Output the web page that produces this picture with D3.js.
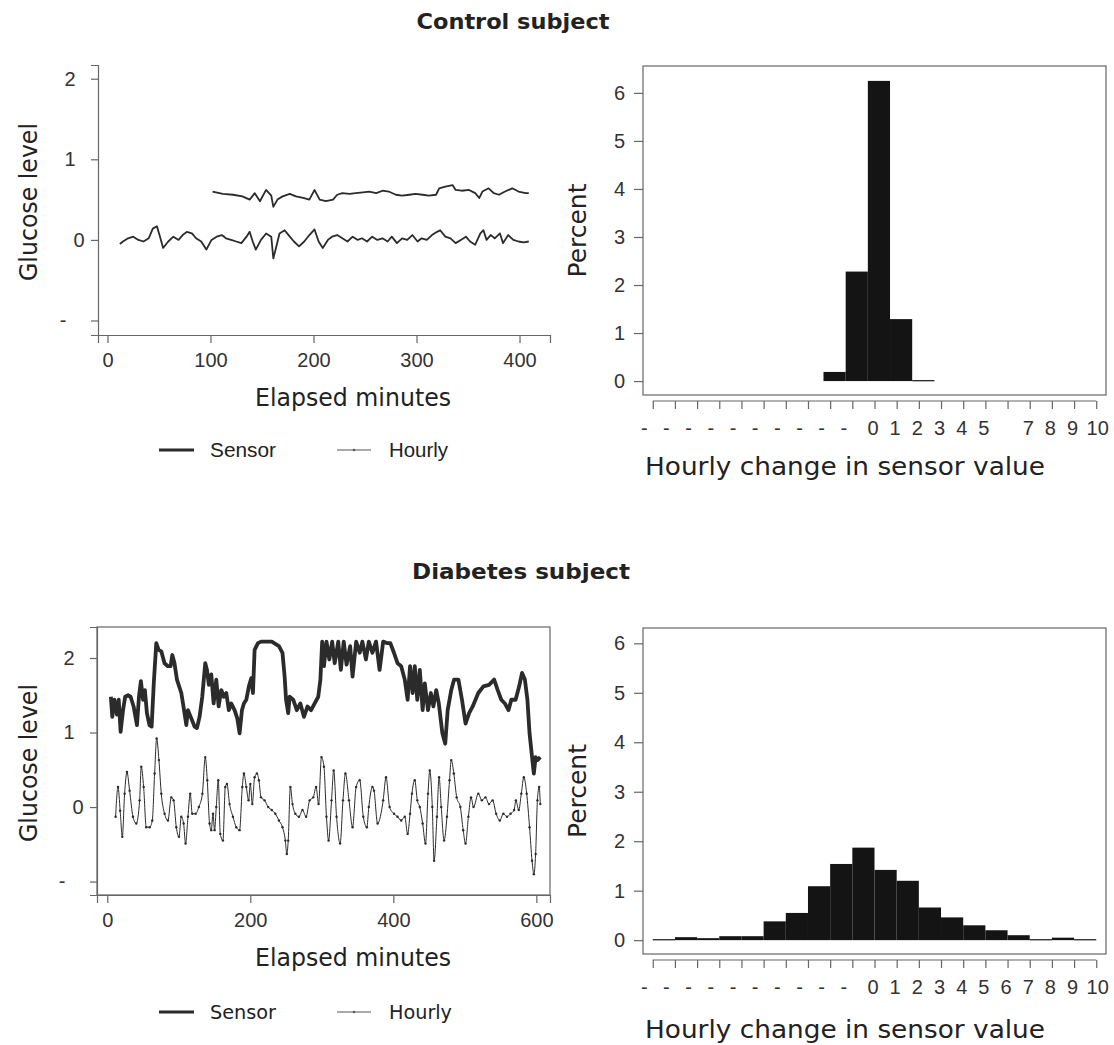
<!DOCTYPE html>
<html>
<head>
<meta charset="utf-8">
<script src="https://cdn.jsdelivr.net/npm/d3@7"></script>
<style>
  html, body { margin: 0; padding: 0; background: #ffffff; }
  svg { display: block; }
</style>
</head>
<body>
<script>
// ---------- Control subject: glucose traces ----------
const ctlSensorMin = [102,112,122,131,138,143,148,154,159,161,165,170,177,183,190,196,201,206,212,219,223,228,235,241,248,254,261,267,273,280,286,293,299,306,312,319,322,328,335,338,344,351,357,361,364,370,375,380,386,393,399,406,409];
const ctlSensor    = [0.60,0.57,0.56,0.54,0.50,0.58,0.48,0.62,0.55,0.41,0.50,0.54,0.57,0.54,0.52,0.50,0.62,0.50,0.48,0.50,0.56,0.58,0.57,0.58,0.59,0.60,0.58,0.61,0.60,0.56,0.55,0.56,0.57,0.56,0.55,0.56,0.64,0.66,0.68,0.62,0.61,0.62,0.58,0.52,0.60,0.64,0.58,0.56,0.60,0.64,0.60,0.58,0.58];

const ctlHourMin = [12,15,20,25,30,35,40,44,48,51,54,59,64,69,73,77,82,86,91,96,101,106,111,115,120,125,130,135,138,141,144,149,154,159,161,164,167,172,177,181,186,191,196,201,205,209,214,218,223,228,233,238,243,247,252,257,262,267,272,276,281,286,291,296,301,305,310,315,320,323,328,333,338,343,348,352,357,362,365,368,372,376,381,384,389,394,399,404,409];
const ctlHourly  = [-0.05,-0.02,0.02,0.04,0.00,-0.02,0.02,0.14,0.17,0.04,-0.10,-0.02,0.04,0.00,0.06,0.10,0.08,0.02,-0.02,-0.12,0.00,0.04,0.06,0.02,0.00,-0.02,-0.04,0.04,0.10,-0.02,-0.12,0.00,0.08,0.04,-0.23,-0.08,0.08,0.12,0.04,-0.02,-0.08,-0.02,0.06,0.13,-0.02,-0.10,0.00,0.04,0.06,0.02,-0.02,0.04,0.00,0.02,-0.02,0.04,0.00,0.02,-0.02,0.04,-0.04,0.02,0.00,0.06,-0.02,0.02,0.00,0.06,0.10,0.12,0.04,0.02,-0.04,0.00,0.04,-0.02,-0.06,0.08,0.12,0.00,0.06,0.02,0.08,-0.04,0.06,0.00,-0.02,-0.03,-0.02];

// ---------- Diabetes subject: glucose traces ----------
const dbSensorMin = [5,7,10,13.5,16,18.6,22,25,29,32.6,36.8,41.5,44.3,47,50,52.6,55.4,59,62,65,68.5,71.8,75.5,80,84.8,88.5,90.9,94,97.4,103.5,108,110.5,112.8,117.5,122,125.4,129,132.8,137,139.4,142,145.4,148.7,152.4,155.7,159.4,163,166.4,170,173.4,178,181.8,185,188.3,191,194.4,198,201.4,203.7,206,210.7,215,220,230,240,245,248,250,253,255,260,265,270,275,280,285,290,295,298,300.5,303,306.5,310.5,314.5,318,323,326.6,330.6,334.6,339.6,343,348,353,356.7,361.7,365.7,370.8,375.8,380.8,385.8,390.8,395.8,400.9,405.9,411,416,420,423.4,427,430,433.5,437,441,444,448.5,452.5,456,460,463.6,468.6,472.6,476,481,485,491,496,501,506,511,518.8,526,533.8,541,546,551,556,561,565,571,576,580,584,587.5,590.5,594,596.5,599,601.5,605.5];
const dbSensor    = [1.48,1.21,1.44,1.24,1.44,1.01,1.30,1.48,1.50,1.48,1.35,1.10,1.48,1.69,1.44,1.57,1.26,1.10,1.08,1.66,2.20,2.11,2.09,1.93,1.89,1.89,2.04,1.93,1.71,1.53,1.26,1.10,1.30,1.19,1.08,1.06,1.21,1.48,1.93,1.84,1.64,1.78,1.39,1.71,1.35,1.57,1.48,1.53,1.30,1.39,1.30,1.19,0.99,1.30,1.39,1.44,1.62,1.73,1.53,2.11,2.20,2.22,2.22,2.22,2.16,2.07,1.75,1.44,1.26,1.48,1.44,1.30,1.39,1.21,1.35,1.30,1.39,1.48,1.71,2.22,1.89,2.22,1.98,2.22,1.93,2.22,1.84,2.22,1.91,2.16,1.75,2.22,2.07,2.22,1.98,2.22,2.07,2.22,1.84,2.22,2.20,2.20,2.07,1.93,1.89,1.71,1.44,1.89,1.53,1.89,1.44,1.84,1.30,1.66,1.30,1.53,1.35,1.57,1.39,0.99,0.85,1.30,1.57,1.71,1.71,1.44,1.12,1.26,1.35,1.53,1.62,1.64,1.71,1.57,1.44,1.39,1.30,1.44,1.44,1.62,1.80,1.71,1.44,0.99,0.67,0.45,0.67,0.63,0.67];

const dbHourMin = [11.6,15,18,21,24.2,27.5,31.2,35.9,40.5,45.2,47.5,50.8,54.5,59.2,62.9,66.2,69,72.2,75.5,80.1,84.8,89.5,92.7,96.5,100.2,103.5,106.7,109.5,112.8,116,118.8,123.5,128,133,137,139.8,143,145.4,147.8,150,152.4,155.2,158,161.7,165,167.3,171,175.7,180.4,185,188.8,191,194.4,197.6,200,202.8,206,209.3,212,215,220,225,230,235,240,245,249,251,253,256,259,263,268,273,278,283,288,292,295.5,299.5,303,306.5,309.5,313.6,316.6,320.6,325.6,329.6,333,338,343,348,353,358,363,365.7,370.8,373,378,385.8,389.8,394.8,400.9,405.9,411,416,420,423.4,426,430,433.5,437,441,445,448.5,451,454.5,457,461,464,467,471,475,478.6,481,484.6,488.6,493.7,497.7,501,505,508.7,512.2,518.8,523.8,528.8,533.8,538.8,543.8,548.9,553.9,558.9,563.9,568.9,571.4,575.4,579,582.5,586.5,590.5,594,596.5,599,601.5,604,605.5];
const dbHourly  = [-0.13,0.27,-0.05,-0.40,0.18,0.47,0.22,-0.13,-0.22,0.09,0.54,0.27,-0.27,-0.27,-0.18,0.45,0.92,0.63,0.18,-0.09,-0.18,0.13,0.09,-0.27,-0.40,-0.13,-0.22,-0.49,-0.13,0.18,-0.09,-0.09,0.00,0.18,0.67,0.36,-0.22,-0.31,-0.09,-0.31,0.00,0.36,-0.36,-0.45,0.27,0.31,0.04,-0.13,-0.27,-0.31,0.27,0.45,0.27,0.09,0.31,0.04,0.40,0.45,0.36,0.13,0.09,0.00,-0.04,-0.09,-0.18,-0.27,-0.45,-0.63,-0.45,0.27,0.04,-0.09,-0.13,-0.04,-0.13,0.09,0.13,0.27,0.04,0.67,0.54,-0.13,-0.45,0.09,0.49,-0.13,-0.49,0.09,0.45,0.09,-0.27,0.27,0.36,-0.13,-0.27,0.00,0.27,0.22,-0.22,0.09,0.40,0.00,-0.09,-0.13,-0.18,-0.13,-0.36,-0.09,0.18,0.36,0.09,0.00,-0.22,-0.49,0.18,0.49,0.00,-0.72,-0.13,0.40,0.00,-0.45,-0.13,0.36,0.63,0.45,0.13,0.00,-0.31,-0.49,-0.13,0.13,0.00,0.18,0.09,0.13,0.04,0.09,-0.09,-0.18,-0.09,-0.13,-0.09,-0.04,0.09,-0.04,0.18,0.40,0.18,-0.27,-0.72,-0.90,-0.63,0.09,0.27,0.04];

// ---------- Histograms of hourly change ----------
const ctlBinLeft = [-2.3,-1.3,-0.3,0.7,1.7];
const ctlPercent = [0.19,2.28,6.25,1.29,0.02];
const dbBinLeft  = [-10,-9,-8,-7,-6,-5,-4,-3,-2,-1,0,1,2,3,4,5,6,7,8,9];
const dbPercent  = [0.02,0.06,0.04,0.08,0.08,0.38,0.55,1.09,1.54,1.87,1.42,1.20,0.66,0.46,0.30,0.20,0.10,0.02,0.05,0.02];

// ---------- Tick values and labels ----------
const glucoseTicks  = [-1,0,1,2];
const glucoseLabels = ["-","0","1","2"];
const ctlMinuteTicks = [0,100,200,300,400];
const dbMinuteTicks  = [0,200,400,600];
const pctTicks = [0,1,2,3,4,5,6];
const changeTicks = d3.range(-10,11);
const ctlChangeLabels = ["-","-","-","-","-","-","-","-","-","-","0","1","2","3","4","5","","7","8","9","10"];
const dbChangeLabels  = ["-","-","-","-","-","-","-","-","-","-","0","1","2","3","4","5","6","7","8","9","10"];

const W = 1114, H = 1045;
const INK = "#2b2b2b", AXIS = "#666";
const TITLE_FONT = "'DejaVu Sans', 'Noto Sans', sans-serif";
const TICK_FONT = "'Liberation Sans', Arial, sans-serif";

const svg = d3.select("body").append("svg").attr("width", W).attr("height", H);

function text(x, y, s, opts = {}) {
  const t = svg.append("text").attr("x", x).attr("y", y).text(s)
    .attr("font-family", opts.family || TITLE_FONT)
    .attr("font-size", opts.size || 23)
    .attr("font-weight", opts.weight || "normal")
    .attr("fill", opts.fill || "#222")
    .attr("text-anchor", opts.anchor || "middle")
    .attr("dominant-baseline", "central");
  if (opts.len) t.attr("textLength", opts.len).attr("lengthAdjust", "spacingAndGlyphs");
  if (opts.rotate) t.attr("transform", `rotate(-90,${x},${y})`);
  return t;
}

function styleAxis(g) {
  g.selectAll("path.domain").attr("stroke", AXIS).attr("stroke-width", 1.2);
  g.selectAll(".tick line").attr("stroke", AXIS).attr("stroke-width", 1.2);
  g.selectAll(".tick text").attr("font-family", TICK_FONT).attr("font-size", 20).attr("fill", "#333");
}

// ----- time-series panel -----
function seriesPanel(cfg) {
  const x = d3.scaleLinear().domain(cfg.xDomain).range([cfg.left, cfg.right]);
  const y = d3.scaleLinear().domain(cfg.yDomain).range([cfg.bottom, cfg.top]);

  if (cfg.box) {
    svg.append("rect").attr("x", cfg.left).attr("y", cfg.top)
      .attr("width", cfg.right - cfg.left).attr("height", cfg.bottom - cfg.top)
      .attr("fill", "none").attr("stroke", AXIS).attr("stroke-width", 1.2);
  }

  const ga = svg.append("g").attr("transform", `translate(${cfg.left},0)`)
    .call(d3.axisLeft(y).tickValues(glucoseTicks).tickSizeOuter(0).tickSize(7).tickPadding(14)
      .tickFormat((d, i) => glucoseLabels[i]));
  styleAxis(ga);
  ga.selectAll(".tick text").attr("text-anchor", "middle")
    .attr("dx", d => d === 0 ? 2 : (d < 0 ? -14 : -7));

  const gb = svg.append("g").attr("transform", `translate(0,${cfg.bottom})`)
    .call(d3.axisBottom(x).tickValues(cfg.xTicks).tickSizeOuter(0).tickSize(8).tickPadding(10));
  styleAxis(gb);

  const sensorPts = cfg.sensorMin.map((m, i) => [m, cfg.sensor[i]]);
  const hourPts = cfg.hourMin.map((m, i) => [m, cfg.hourly[i]]);
  const sensorLine = d3.line().x(d => x(d[0])).y(d => y(d[1]));
  const hourLine = d3.line().x(d => x(d[0])).y(d => y(d[1])).curve(cfg.hourCurve || d3.curveLinear);

  svg.append("path").datum(sensorPts).attr("d", sensorLine)
    .attr("fill", "none").attr("stroke", INK).attr("stroke-width", cfg.sensorWidth)
    .attr("stroke-linejoin", "round");
  svg.append("path").datum(hourPts).attr("d", hourLine)
    .attr("fill", "none").attr("stroke", INK).attr("stroke-width", cfg.hourWidth)
    .attr("stroke-linejoin", "round");
  if (cfg.hourDots) {
    svg.append("g").selectAll("circle").data(hourPts).join("circle")
      .attr("cx", d => x(d[0])).attr("cy", d => y(d[1])).attr("r", 1.2).attr("fill", INK);
  }

  text(29, (cfg.top + cfg.bottom) / 2 + 2, "Glucose level", { rotate: true, size: 24, len: 158 });
  text(353, cfg.xTitleY, "Elapsed minutes", { size: 24, len: 196 });

  // legend
  const ly = cfg.legendY;
  svg.append("line").attr("x1", 159).attr("x2", 194).attr("y1", ly).attr("y2", ly)
    .attr("stroke", INK).attr("stroke-width", 3.2);
  text(210, ly, "Sensor", { anchor: "start", size: 20, family: cfg.legendFont, len: 66 });
  svg.append("line").attr("x1", 337).attr("x2", 371).attr("y1", ly).attr("y2", ly)
    .attr("stroke", "#555").attr("stroke-width", 1);
  svg.append("circle").attr("cx", 354).attr("cy", ly).attr("r", 1.2).attr("fill", "#555");
  text(389, ly, "Hourly", { anchor: "start", size: 20, family: cfg.legendFont, len: cfg.hourlyLen });
}

// ----- histogram panel -----
function histPanel(cfg) {
  const x = d3.scaleLinear().domain([-10.44, 10.44]).range([643, 1106]);
  const y = d3.scaleLinear().domain(cfg.yDomain).range([cfg.bottom, cfg.top]);

  svg.append("rect").attr("x", 643).attr("y", cfg.top)
    .attr("width", 1106 - 643).attr("height", cfg.bottom - cfg.top)
    .attr("fill", "none").attr("stroke", AXIS).attr("stroke-width", 1.2);

  svg.append("g").selectAll("rect").data(cfg.binLeft).join("rect")
    .attr("x", d => x(d)).attr("width", d => x(d + 1) - x(d))
    .attr("y", (d, i) => y(cfg.percent[i]))
    .attr("height", (d, i) => Math.max(1.2, y(0) - y(cfg.percent[i])))
    .attr("fill", "#141414");

  const ga = svg.append("g").attr("transform", "translate(643,0)")
    .call(d3.axisLeft(y).tickValues(pctTicks).tickSizeOuter(0).tickSize(9).tickPadding(9)
      .tickFormat(d3.format("d")));
  styleAxis(ga);
  ga.select("path.domain").remove();

  const gb = svg.append("g").attr("transform", `translate(0,${cfg.bottom + 6})`)
    .call(d3.axisBottom(x).tickValues(changeTicks).tickSizeOuter(0).tickSize(8).tickPadding(12)
      .tickFormat((d, i) => cfg.changeLabels[i]));
  styleAxis(gb);
  gb.select("path.domain").attr("d", `M${x(-10)},0H${x(10)}`);
  gb.selectAll(".tick text").attr("dx", d => d < 0 ? -9 : (d === 10 ? 1 : -2));

  text(578, (cfg.top + cfg.bottom) / 2, "Percent", { rotate: true, size: 24, len: 94 });
  text(845, cfg.xTitleY, "Hourly change in sensor value", { size: 24, len: 400 });
}

// titles
text(513, 21, "Control subject", { weight: "bold", size: 22, len: 193 });
text(521, 571, "Diabetes subject", { weight: "bold", size: 22, len: 218 });

seriesPanel({
  left: 98, right: 550, top: 65, bottom: 335,
  xDomain: [-9.2, 429.6], yDomain: [-1.18, 2.17],
  xTicks: ctlMinuteTicks, box: false,
  sensorMin: ctlSensorMin, sensor: ctlSensor, hourMin: ctlHourMin, hourly: ctlHourly,
  sensorWidth: 1.8, hourWidth: 1.8, hourDots: false,
  xTitleY: 398, legendY: 450, legendFont: TICK_FONT, hourlyLen: 59
});

seriesPanel({
  left: 97, right: 550, top: 627, bottom: 895,
  xDomain: [-14.4, 619.1], yDomain: [-1.18, 2.416],
  xTicks: dbMinuteTicks, box: true,
  sensorMin: dbSensorMin, sensor: dbSensor, hourMin: dbHourMin, hourly: dbHourly,
  sensorWidth: 3.8, hourWidth: 1, hourDots: true, hourCurve: d3.curveMonotoneX,
  xTitleY: 958, legendY: 1012, legendFont: TITLE_FONT, hourlyLen: 63
});

histPanel({
  top: 66, bottom: 395, yDomain: [-0.29, 6.56],
  binLeft: ctlBinLeft, percent: ctlPercent, changeLabels: ctlChangeLabels,
  xTitleY: 467
});

histPanel({
  top: 628, bottom: 954, yDomain: [-0.28, 6.31],
  binLeft: dbBinLeft, percent: dbPercent, changeLabels: dbChangeLabels,
  xTitleY: 1030
});
</script>
</body>
</html>
